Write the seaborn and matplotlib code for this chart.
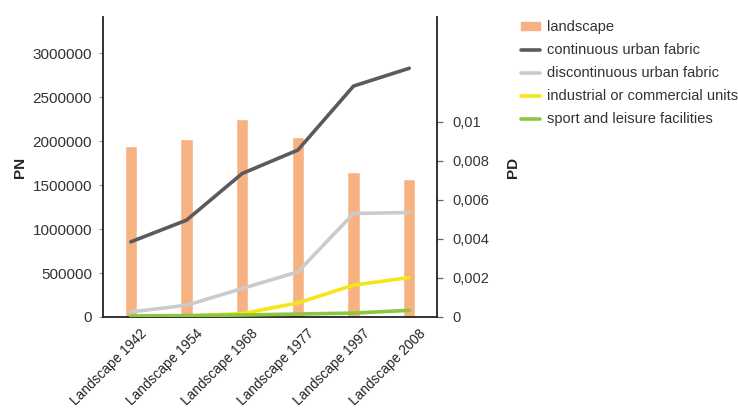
import numpy as np
import pandas as pd
import matplotlib.pyplot as plt
import matplotlib.ticker as mticker
from matplotlib.patches import Patch
from matplotlib.lines import Line2D
import seaborn as sns

# data
labels = ['Landscape 1942', 'Landscape 1954', 'Landscape 1968',
          'Landscape 1977', 'Landscape 1997', 'Landscape 2008']
landscape_pn = [1948000, 2024000, 2248000, 2050000, 1645000, 1569000]
continuous = [0.00385, 0.00496, 0.00735, 0.00855, 0.01183, 0.01274]
discontinuous = [0.00026, 0.00060, 0.00146, 0.00231, 0.00530, 0.00535]
industrial = [0.00003, 0.00005, 0.00017, 0.00072, 0.00163, 0.00202]
sport = [0.00005, 0.00007, 0.00010, 0.00015, 0.00020, 0.00034]

series_names = ['continuous urban fabric', 'discontinuous urban fabric',
                'industrial or commercial units', 'sport and leisure facilities']
colors = {'continuous urban fabric': '#5b5b5d',
          'discontinuous urban fabric': '#cbcbcb',
          'industrial or commercial units': '#f5e617',
          'sport and leisure facilities': '#8dc63f'}
bar_color = '#f7b281'

sns.set_theme(style='white')
plt.rcParams['font.family'] = ['Liberation Sans', 'DejaVu Sans']

bars = pd.DataFrame({'label': labels, 'PN': landscape_pn})
lines = pd.DataFrame({
    'pos': np.tile(np.arange(len(labels)), 4),
    'PD': continuous + discontinuous + industrial + sport,
    'series': np.repeat(series_names, len(labels)),
})

fig = plt.figure(figsize=(7.38, 4.13), dpi=100)
ax = fig.add_axes([0.1396, 0.2325, 0.4526, 0.7265])
sns.barplot(data=bars, x='label', y='PN', color=bar_color, width=0.22,
            saturation=1, ax=ax)

ax2 = ax.twinx()
sns.lineplot(data=lines, x='pos', y='PD', hue='series', palette=colors,
             linewidth=2.6, legend=False, ax=ax2)

ax.set_xlim(-0.5, len(labels) - 0.5)
ax.set_ylim(0, 3413000)
ax2.set_ylim(0, 0.01537)
ax.set_yticks(np.arange(0, 3000001, 500000))
ax.yaxis.set_major_formatter(mticker.FuncFormatter(lambda v, p: f'{int(v)}'))
ax2.set_yticks([0, 0.002, 0.004, 0.006, 0.008, 0.01])
ax2.yaxis.set_major_formatter(
    mticker.FuncFormatter(lambda v, p: '0' if v == 0 else f'{v:.3f}'.rstrip('0').replace('.', ',')))

# category ticks sit between the bars; labels anchored a bit right of centre
ax.set_xticks(np.arange(len(labels)) + 0.16)
ax.set_xticklabels(labels, rotation=45, ha='right', rotation_mode='anchor',
                   fontsize=9.8, color='#222222')
ax.xaxis.set_minor_locator(mticker.FixedLocator(np.arange(-0.5, len(labels), 1)))
ax.tick_params(axis='x', which='major', length=0, pad=7)
ax.tick_params(axis='x', which='minor', length=4, width=0.9, color='#222222',
               direction='inout')
ax.tick_params(axis='y', length=3, width=0.8, color='#999999', direction='out',
               labelsize=11, labelcolor='#333333', pad=5)
ax2.tick_params(axis='y', length=4, width=0.9, direction='out', color='#666666',
                labelsize=10.5, labelcolor='#333333', pad=7)

ax.set_xlabel('')
ax.set_ylabel('PN', fontsize=11, fontweight='bold', labelpad=4)
ax2.set_ylabel('PD', fontsize=11, fontweight='bold', labelpad=12)

for a in (ax, ax2):
    a.spines['top'].set_visible(False)
    for s in ('left', 'right', 'bottom'):
        a.spines[s].set_color('#222222')
        a.spines[s].set_linewidth(1.3)
ax2.spines['left'].set_visible(False)
ax2.spines['bottom'].set_visible(False)
ax.spines['right'].set_visible(False)

handles = [Patch(color=bar_color)] + [Line2D([], [], color=colors[n], lw=2.6)
                                      for n in series_names]
fig.legend(handles, ['landscape'] + series_names, loc='upper left',
           bbox_to_anchor=(0.688, 0.983), frameon=False, fontsize=10.5,
           handlelength=1.3, handleheight=0.45, handletextpad=0.5,
           labelspacing=0.62, labelcolor='#333333')

fig.savefig('out.png', dpi=100)
